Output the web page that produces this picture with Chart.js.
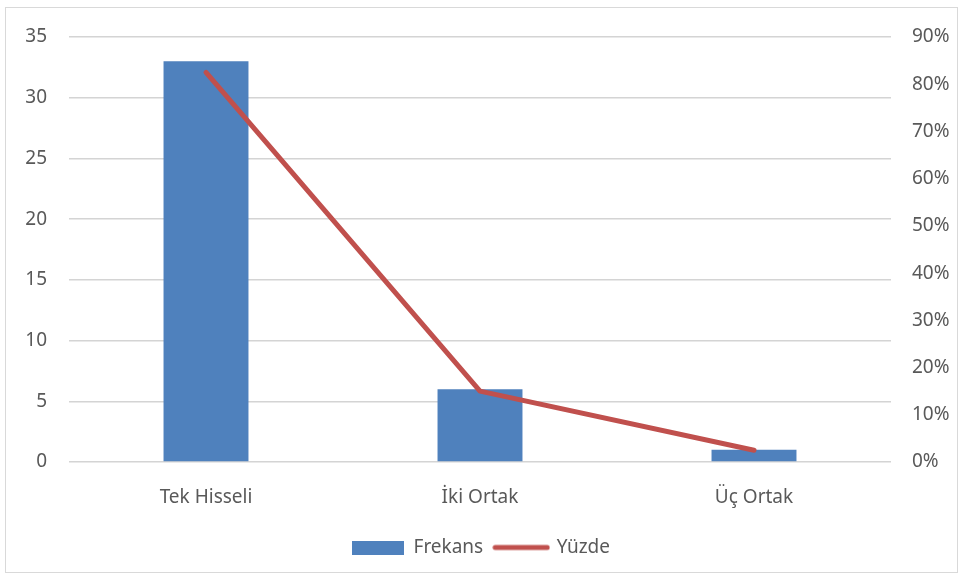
<!DOCTYPE html>
<html lang="tr">
<head>
    <meta charset="UTF-8">
    <title>Frekans / Yüzde</title>
    <script src="https://cdn.jsdelivr.net/npm/chart.js@4.4.0/dist/chart.umd.min.js"></script>
    <style>
        html, body { margin: 0; padding: 0; background: #fff; }
        .frame { position: absolute; left: 5px; top: 7px; width: 951px; height: 564px; border: 1px solid #d9d9d9; }
        .wrap { position: absolute; left: 0; top: 0; width: 962px; height: 577px; }
    </style>
</head>
<body>
    <div class="frame"></div>
    <div class="wrap"><canvas id="myChart" width="962" height="577"></canvas></div>

<script>
    // data
    var categories = ['Tek Hisseli', 'İki Ortak', 'Üç Ortak'];
    var frekans = [33, 6, 1];
    var yuzde = [82.5, 15, 2.5];   // percent
    var leftTicks = [0, 5, 10, 15, 20, 25, 30, 35];

    var fontFamily = "'Noto Sans', 'Open Sans', sans-serif";
    var textColor = '#595959';
    var fontSize = 19;

    // little images for the legend markers
    function legendBox() {
        var c = document.createElement('canvas');
        c.width = 52; c.height = 14;
        var g = c.getContext('2d');
        g.fillStyle = '#4F81BD';
        g.fillRect(0, 0, 52, 14);
        return c;
    }
    function legendLine() {
        var c = document.createElement('canvas');
        c.width = 58; c.height = 8;
        var g = c.getContext('2d');
        g.strokeStyle = '#C0504D';
        g.lineWidth = 5;
        g.lineCap = 'round';
        g.beginPath();
        g.moveTo(3, 4); g.lineTo(55, 4);
        g.stroke();
        return c;
    }

    var ctx = document.getElementById('myChart').getContext('2d');
    var chart = new Chart(ctx, {
        type: 'bar',
        data: {
            labels: categories,
            datasets: [
                {
                    type: 'line',
                    label: 'Yüzde',
                    data: yuzde,
                    yAxisID: 'y1',
                    borderColor: '#C0504D',
                    backgroundColor: '#C0504D',
                    borderWidth: 5,
                    borderCapStyle: 'round',
                    borderJoinStyle: 'round',
                    pointRadius: 0,
                    pointStyle: legendLine(),
                    tension: 0,
                    order: 1
                },
                {
                    label: 'Frekans',
                    data: frekans,
                    yAxisID: 'y',
                    backgroundColor: '#4F81BD',
                    borderWidth: 0,
                    categoryPercentage: 1,
                    barPercentage: 0.31,
                    pointStyle: legendBox(),
                    order: 2
                }
            ]
        },
        options: {
            responsive: false,
            animation: false,
            layout: { padding: { top: 37, left: 0, right: 0, bottom: 10 } },
            plugins: {
                tooltip: { enabled: false },
                legend: {
                    position: 'bottom',
                    reverse: true,
                    labels: {
                        usePointStyle: true,
                        pointStyleWidth: 52,
                        color: textColor,
                        padding: 12,
                        font: { family: fontFamily, size: fontSize }
                    }
                }
            },
            scales: {
                x: {
                    grid: { display: false },
                    border: { display: false },
                    ticks: { color: textColor, padding: 16, font: { family: fontFamily, size: fontSize } },
                    afterFit: function (s) { s.height = 64; }
                },
                y: {
                    position: 'left',
                    min: 0,
                    max: 35,
                    afterBuildTicks: function (s) { s.ticks = leftTicks.map(function (v) { return { value: v }; }); },
                    grid: { color: '#d4d4d4', lineWidth: 1.5, drawTicks: false },
                    border: { display: false },
                    ticks: { color: textColor, padding: 22, font: { family: fontFamily, size: fontSize } },
                    afterFit: function (s) { s.width = 69; }
                },
                y1: {
                    position: 'right',
                    min: 0,
                    max: 90,
                    grid: { display: false, drawTicks: false },
                    border: { display: false },
                    ticks: {
                        stepSize: 10,
                        color: textColor,
                        padding: 21,
                        font: { family: fontFamily, size: fontSize },
                        callback: function (v) { return v + '%'; }
                    },
                    afterFit: function (s) { s.width = 71; }
                }
            }
        }
    });
</script>
</body>
</html>
